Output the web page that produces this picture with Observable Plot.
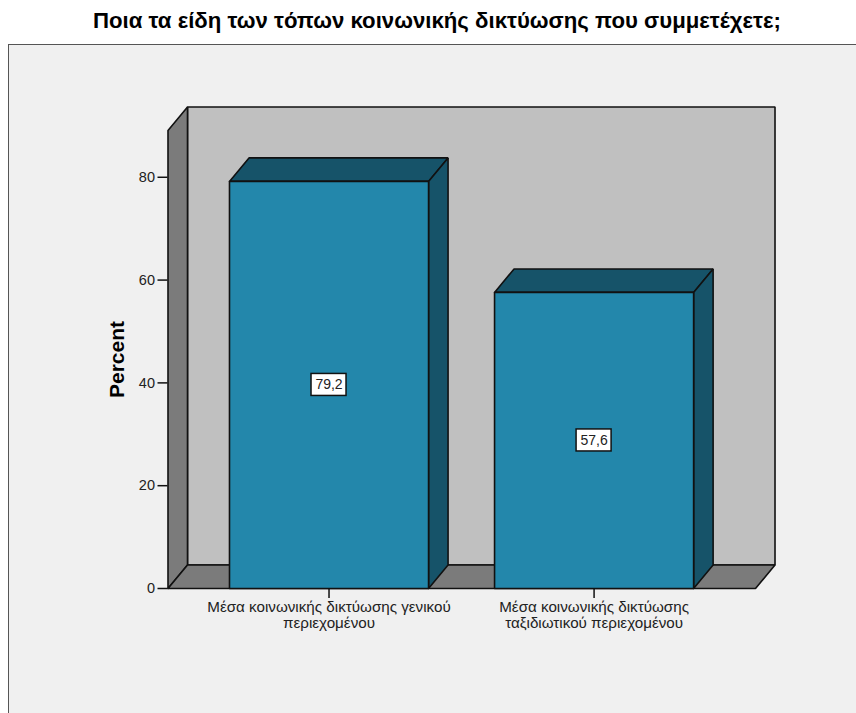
<!DOCTYPE html>
<html lang="el">
<head>
<meta charset="utf-8">
<script src="https://cdn.jsdelivr.net/npm/d3@7"></script>
<script src="https://cdn.jsdelivr.net/npm/@observablehq/plot@0.6"></script>
<style>
  html, body { margin: 0; background: #fff; overflow: hidden; width: 856px; height: 713px; }
  #title {
    position: absolute; left: 93px; top: 8px; white-space: nowrap;
    font: bold 22.2px "Liberation Sans", Arial, sans-serif; color: #000;
  }
  #panel {
    position: absolute; left: 8px; top: 44px; width: 860px; height: 680px;
    background: #f0f0f0; border: 1px solid #555;
  }
  #chart { position: absolute; left: 0; top: 44px; }
  #chart svg { background: transparent; display: block; }
</style>
</head>
<body>
<div id="panel"></div>
<div id="title">Ποια τα είδη των τόπων κοινωνικής δικτύωσης που συμμετέχετε;</div>
<div id="chart"></div>
<script>
// Survey result: share of respondents per type of social network
const categories = [
  "Μέσα κοινωνικής δικτύωσης γενικού\nπεριεχομένου",
  "Μέσα κοινωνικής δικτύωσης\nταξιδιωτικού περιεχομένου"
];
const values = [79.2, 57.6];
const yTicks = [0, 20, 40, 60, 80];
const valueLabels = ["79,2", "57,6"];

// Extent of the pseudo-3D box, in scale units
const yMax = 89.1;
const xMin = -0.6075;
const xMax = 1.609;
const depthX = 0.0736;
const depthY = 4.57;
const barHalf = 0.3755;

const index = categories.map((_, i) => i);

// A closed polygon for the line mark, tagged with a face id and a colour
let faceId = 0;
const face = (fill, pts) => {
  const id = faceId++;
  return [...pts, pts[0]].map(([x, y]) => ({x, y, id, fill}));
};

const wallFaces = [
  // back wall
  ...face("#c0c0c0", [[xMin + depthX, depthY], [xMax + depthX, depthY], [xMax + depthX, yMax + depthY], [xMin + depthX, yMax + depthY]]),
  // left wall
  ...face("#7b7b7b", [[xMin, 0], [xMin + depthX, depthY], [xMin + depthX, yMax + depthY], [xMin, yMax]]),
  // floor
  ...face("#7b7b7b", [[xMin, 0], [xMax, 0], [xMax + depthX, depthY], [xMin + depthX, depthY]])
];

const barFaces = index.flatMap((i) => {
  const l = i - barHalf, r = i + barHalf, v = values[i];
  return [
    ...face("#165369", [[l, v], [r, v], [r + depthX, v + depthY], [l + depthX, v + depthY]]),
    ...face("#165369", [[r, 0], [r + depthX, depthY], [r + depthX, v + depthY], [r, v]]),
    ...face("#2387ab", [[l, 0], [r, 0], [r, v], [l, v]])
  ];
});

const polygons = (data) => Plot.line(data, {
  x: "x", y: "y", z: "id", fill: "fill",
  stroke: "#111", strokeWidth: 1.6, strokeLinejoin: "miter", curve: "linear"
});

const plot = Plot.plot({
  width: 856,
  height: 669,
  marginLeft: 167.5,
  marginRight: 101,
  marginTop: 86,
  marginBottom: 125,
  style: {fontFamily: "'Liberation Sans', Arial, sans-serif", background: "transparent"},
  x: {domain: [xMin, xMax]},
  y: {domain: [0, yMax]},
  marks: [
    polygons(wallFaces),
    polygons(barFaces),
    Plot.axisY({
      ticks: yTicks, tickSize: 10, tickPadding: 3, fontSize: 14.5,
      stroke: "#111", strokeWidth: 1.5, fill: "#222", label: null
    }),
    Plot.axisX({
      ticks: index, tickFormat: (i) => categories[i],
      tickSize: 10, tickPadding: 2, fontSize: 15.2, lineHeight: 1.06,
      stroke: "#111", strokeWidth: 1.5, fill: "#222", label: null
    }),
    Plot.text(["Percent"], {
      frameAnchor: "left", textAnchor: "middle", dx: -50.5, rotate: -90,
      fontSize: 21, fontWeight: "bold", fill: "#000"
    }),
    // boxed value labels at mid-height of each bar
    Plot.rect(index, {
      x1: (i) => i, x2: (i) => i,
      y1: (i) => values[i] / 2, y2: (i) => values[i] / 2,
      insetLeft: -17.5, insetRight: -17.5, insetTop: -11, insetBottom: -11,
      fill: "#fff", stroke: "#111", strokeWidth: 1.5
    }),
    Plot.text(index, {
      x: (i) => i, y: (i) => values[i] / 2, text: (i) => valueLabels[i],
      fontSize: 14, fill: "#222"
    })
  ]
});
document.getElementById("chart").append(plot);
</script>
</body>
</html>
